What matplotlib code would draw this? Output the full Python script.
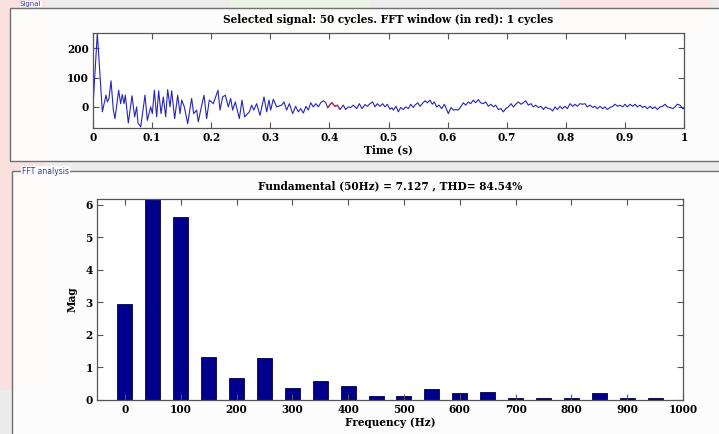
import matplotlib
matplotlib.use("Agg")
import matplotlib.pyplot as plt
from matplotlib.patches import Rectangle

# ---------------- data ----------------
signal_t = [0.0006, 0.0073, 0.0158, 0.0220, 0.0243, 0.0271, 0.0305, 0.0344, 0.0372, 0.0434,
            0.0468, 0.0496, 0.0525, 0.0547, 0.0598, 0.0660, 0.0705, 0.0739, 0.0761, 0.0807,
            0.0880, 0.0919, 0.0976, 0.1004, 0.1038, 0.1077, 0.1111, 0.1151, 0.1190, 0.1230,
            0.1263, 0.1303, 0.1331, 0.1382, 0.1433, 0.1472, 0.1500, 0.1545, 0.1602, 0.1669,
            0.1703, 0.1754, 0.1782, 0.1822, 0.1878, 0.1923, 0.1968, 0.2036, 0.2115, 0.2149,
            0.2194, 0.2239, 0.2290, 0.2329, 0.2363, 0.2408, 0.2476, 0.2521, 0.2566, 0.2645,
            0.2685, 0.2719, 0.2769, 0.2826, 0.2893, 0.2939, 0.2978, 0.3006, 0.3051, 0.3108,
            0.3193, 0.3232, 0.3277, 0.3322, 0.3379, 0.3429, 0.3474, 0.3514, 0.3559, 0.3604,
            0.3644, 0.3683, 0.3728, 0.3773, 0.3813, 0.3852, 0.3897, 0.3937, 0.3971, 0.4038,
            0.4095, 0.4134, 0.4179, 0.4236, 0.4275, 0.4320, 0.4360, 0.4405, 0.4461, 0.4506,
            0.4552, 0.4602, 0.4642, 0.4687, 0.4732, 0.4772, 0.4811, 0.4856, 0.4901, 0.4941,
            0.4980, 0.5025, 0.5059, 0.5082, 0.5127, 0.5166, 0.5206, 0.5251, 0.5291, 0.5336,
            0.5375, 0.5420, 0.5448, 0.5494, 0.5533, 0.5572, 0.5618, 0.5657, 0.5702, 0.5742,
            0.5775, 0.5815, 0.5855, 0.5900, 0.5945, 0.5984, 0.6012, 0.6058, 0.6097, 0.6137,
            0.6181, 0.6221, 0.6266, 0.6306, 0.6351, 0.6390, 0.6435, 0.6475, 0.6520, 0.6559,
            0.6604, 0.6644, 0.6689, 0.6734, 0.6774, 0.6813, 0.6858, 0.6904, 0.6943, 0.6983,
            0.7028, 0.7073, 0.7113, 0.7152, 0.7197, 0.7242, 0.7282, 0.7321, 0.7366, 0.7411,
            0.7451, 0.7490, 0.7535, 0.7580, 0.7620, 0.7659, 0.7704, 0.7733, 0.7778, 0.7817,
            0.7857, 0.7902, 0.7941, 0.7986, 0.8026, 0.8071, 0.8117, 0.8156, 0.8195, 0.8240,
            0.8286, 0.8325, 0.8364, 0.8410, 0.8455, 0.8494, 0.8533, 0.8579, 0.8624, 0.8663,
            0.8703, 0.8748, 0.8793, 0.8832, 0.8878, 0.8917, 0.8962, 0.9002, 0.9041, 0.9086,
            0.9132, 0.9171, 0.9210, 0.9255, 0.9301, 0.9340, 0.9379, 0.9425, 0.9470, 0.9509,
            0.9548, 0.9594, 0.9639, 0.9679, 0.9718, 0.9763, 0.9808, 0.9848, 0.9887, 0.9932,
            0.9977, 1.0000]
signal_v = [23, 251, -17, 40, 17, 29, 89, -11, -40, 57,
            11, 42, 11, 40, -55, 38, -34, 0, -55, -68,
            40, -46, 0, -23, 57, -34, 55, -23, 34, -34,
            59, 0, 55, -40, 40, -23, 23, 0, -57, 29,
            -23, -11, -51, -11, 40, -40, 23, 11, 57, -11,
            34, 40, 0, 29, -11, 17, -40, 23, -34, -17,
            6, -11, 11, -29, 34, -17, 23, -11, 26, 0,
            6, 17, -11, 11, -23, 2, -17, -6, -21, 2,
            -11, 14, 0, 11, 0, 14, 21, 15, -3, 15,
            2, 6, -9, 6, -9, 0, -2, 6, -6, 11,
            -6, 8, 2, 11, 17, 0, 11, 2, 11, 0,
            9, -8, -3, -11, 2, -17, -2, -9, 0, -6,
            9, -2, 6, 14, 2, 11, 21, 14, 23, 9,
            17, 0, 6, -6, 9, -9, -23, -2, -11, -9,
            -11, 0, 14, 6, 17, 11, 23, 14, 25, 14,
            11, 17, 2, 9, 0, 6, -9, -6, -17, -6,
            0, 11, 0, 9, 17, 9, 14, 21, 6, 11,
            0, 6, -2, 2, -9, 0, -6, -6, -14, 0,
            -9, 2, -6, 2, -6, 11, 2, 9, 2, 11,
            9, 11, 0, 6, -2, 2, -6, 2, -6, 0,
            -9, -2, 2, 9, 2, 6, 0, 9, 0, 9,
            2, 9, 0, 6, -2, 2, -6, 2, -6, 0,
            -9, 0, 2, 9, 0, -2, -6, 0, 9, 6,
            -6, -6]

window_t = [0.3971, 0.4038, 0.4095, 0.4134, 0.4179]
window_v = [-3, 15, 2, 6, -9]

freq_hz = [0, 50, 100, 150, 200, 250, 300, 350, 400, 450, 500,
           550, 600, 650, 700, 750, 800, 850, 900, 950]
mag = [2.95, 7.127, 5.62, 1.32, 0.69, 1.30, 0.36, 0.57, 0.43, 0.13, 0.13,
       0.33, 0.20, 0.25, 0.05, 0.07, 0.07, 0.23, 0.07, 0.07]

time_ticks = [0, 0.1, 0.2, 0.3, 0.4, 0.5, 0.6, 0.7, 0.8, 0.9, 1]
time_ticklabels = ["0", "0.1", "0.2", "0.3", "0.4", "0.5", "0.6", "0.7", "0.8", "0.9", "1"]
sig_yticks = [0, 100, 200]
freq_ticks = [0, 100, 200, 300, 400, 500, 600, 700, 800, 900, 1000]
mag_ticks = [0, 1, 2, 3, 4, 5, 6]

title_top = "Selected signal: 50 cycles. FFT window (in red): 1 cycles"
title_bottom = "Fundamental (50Hz) = 7.127 , THD= 84.54%"

# ---------------- figure ----------------
W, H = 719, 434
fig = plt.figure(figsize=(W / 100, H / 100), dpi=100)
fig.patch.set_facecolor("#ececec")

def fx(px):
    return px / W

def fy(py):
    return 1 - py / H

# faint watermark patches
fig.patches.append(Rectangle((0, fy(390)), fx(45), fy(0) - fy(390), transform=fig.transFigure,
                             facecolor="#ffdede", edgecolor="none", alpha=0.8, zorder=0))
fig.patches.append(Rectangle((fx(230), fy(30)), fx(140), fy(0) - fy(30), transform=fig.transFigure,
                             facecolor="#eaf6e2", edgecolor="none", alpha=0.9, zorder=0))
fig.patches.append(Rectangle((fx(560), fy(30)), fx(150), fy(0) - fy(30), transform=fig.transFigure,
                             facecolor="#ffe2e2", edgecolor="none", alpha=0.8, zorder=0))

# panels
fig.patches.append(Rectangle((fx(10), fy(161)), fx(740), fy(8) - fy(161), transform=fig.transFigure,
                             facecolor=(1, 1, 1, 0.88), edgecolor="#707070", linewidth=1.0, zorder=1))
fig.patches.append(Rectangle((fx(12), fy(440)), fx(740), fy(171) - fy(440), transform=fig.transFigure,
                             facecolor=(1, 1, 1, 0.88), edgecolor="#707070", linewidth=1.0, zorder=1))

fig.text(fx(20), fy(4), "Signal", fontsize=5, color="#3333aa", family="DejaVu Sans",
         va="center", ha="left", zorder=3,
         bbox=dict(facecolor="white", edgecolor="none", pad=0.3))
fig.text(fx(22), fy(171), "FFT analysis", fontsize=5.5, color="#3333aa", family="DejaVu Sans",
         va="center", ha="left", zorder=3,
         bbox=dict(facecolor="white", edgecolor="none", pad=0.5))

serif = "DejaVu Serif"
fs = 7.6

def style_axes(ax):
    ax.set_facecolor("white")
    for s in ax.spines.values():
        s.set_color("#555555")
        s.set_linewidth(0.9)
    ax.tick_params(direction="in", length=4, width=0.8, color="#555555",
                   top=True, right=True, labelsize=fs, pad=3)
    for lab in ax.get_xticklabels() + ax.get_yticklabels():
        lab.set_fontfamily(serif)
        lab.set_fontweight("bold")

# top axes: signal
ax1 = fig.add_axes([fx(93), fy(128), fx(684) - fx(93), fy(33) - fy(128)])
ax1.set_zorder(2)
ax1.plot(signal_t, signal_v, color="#2626b8", linewidth=0.8)
ax1.plot(window_t, window_v, color="#dd2222", linewidth=0.8)
ax1.set_xlim(0, 1)
ax1.set_ylim(-72, 252)
ax1.set_xticks(time_ticks)
ax1.set_xticklabels(time_ticklabels)
ax1.set_yticks(sig_yticks)
style_axes(ax1)
ax1.set_title(title_top, fontsize=fs, family=serif, fontweight="bold", pad=7)
ax1.set_xlabel("Time (s)", fontsize=fs, family=serif, fontweight="bold", labelpad=1)

# bottom axes: FFT
ax2 = fig.add_axes([fx(97), fy(400), fx(683) - fx(97), fy(199) - fy(400)])
ax2.set_zorder(2)
ax2.bar(freq_hz, mag, width=27, color="#00008c", edgecolor="#000050", linewidth=0.6)
ax2.set_xlim(-50, 1000)
ax2.set_ylim(0, 6.18)
ax2.set_xticks(freq_ticks)
ax2.set_yticks(mag_ticks)
style_axes(ax2)
ax2.set_title(title_bottom, fontsize=fs, family=serif, fontweight="bold", pad=7)
ax2.set_xlabel("Frequency (Hz)", fontsize=fs, family=serif, fontweight="bold", labelpad=1)
ax2.set_ylabel("Mag", fontsize=fs, family=serif, fontweight="bold", labelpad=6)

fig.savefig("out.png", dpi=100, facecolor=fig.get_facecolor())
